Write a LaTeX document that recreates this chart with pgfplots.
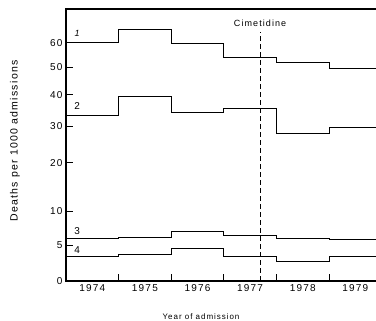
\documentclass[border=0pt]{standalone}
\usepackage{fontspec}
\setmainfont{Liberation Sans}[LetterSpace=12]
\usepackage{pgfplots}
\pgfplotsset{compat=1.18}

\begin{document}
\begin{tikzpicture}
\useasboundingbox (-66pt,-40pt) rectangle (310pt,281pt);
% square-root scaled ordinate: data are given in deaths per 1000 and
% mapped through y filter; ticks and annotations sit at sqrt positions
\begin{axis}[
  at={(0,0)}, anchor=south west,
  scale only axis, width=320pt, height=272pt,
  xmin=0, xmax=6.083,
  ymin=1.2530, ymax=8.665,
  y filter/.code={\pgfmathparse{sqrt(\pgfmathresult)}},
  axis line style={line width=1.1pt},
  xtick pos=bottom, ytick pos=left,
  tick align=inside,
  major tick length=7pt,
  tick style={color=black, thick},
  xtick={0,1,2,3,4,5,6},
  xticklabels={1974,1975,1976,1977,1978,1979},
  x tick label as interval,
  ytick={1.2530,2.2361,3.1623,4.4721,5.4772,6.3246,7.0711,7.7460},
  yticklabels={0,5,10,20,30,40,50,60},
  ticklabel style={font=\fontsize{10}{12}\selectfont},
  xlabel={Year of admission},
  xlabel style={at={(axis description cs:0.422,-0.132)}, anchor=center,
    font=\fontsize{8}{10}\selectfont},
  ylabel={Deaths per 1000 admissions},
  ylabel style={at={(axis description cs:-0.16,0.515)}, anchor=center,
    font=\fontsize{10.5}{12}\selectfont},
]
% mortality series, one level per year of admission
\addplot[black, line width=1pt, const plot] coordinates {
  (0,60) (1,65.7) (2,59.5) (3,54.1) (4,52.1) (5,49.8) (6.083,49.8)};
\addplot[black, line width=1pt, const plot] coordinates {
  (0,33.1) (1,39.3) (2,34.0) (3,35.6) (4,27.7) (5,29.4) (6.083,29.4)};
\addplot[black, line width=1pt, const plot] coordinates {
  (0,5.75) (1,5.95) (2,6.84) (3,6.28) (4,5.75) (5,5.62) (6.083,5.62)};
\addplot[black, line width=1pt, const plot] coordinates {
  (0,3.64) (1,3.85) (2,4.52) (3,3.64) (4,3.23) (5,3.64) (6.083,3.64)};

% introduction of cimetidine
\addplot[black, line width=0.9pt, dash pattern=on 5pt off 3pt] coordinates {
  (3.69,1.57) (3.69,64.6)};
\node[font=\fontsize{9}{11}\selectfont] at (axis cs:3.69,8.28) {Cimetidine};

\node[font=\fontsize{9}{11}\itshape] at (axis cs:0.21,8.01) {1};
\node[font=\fontsize{10}{12}\selectfont] at (axis cs:0.21,6.02) {2};
\node[font=\fontsize{10}{12}\selectfont] at (axis cs:0.21,2.616) {3};
\node[font=\fontsize{10}{12}\selectfont] at (axis cs:0.21,2.10) {4};
\end{axis}
\end{tikzpicture}
\end{document}
